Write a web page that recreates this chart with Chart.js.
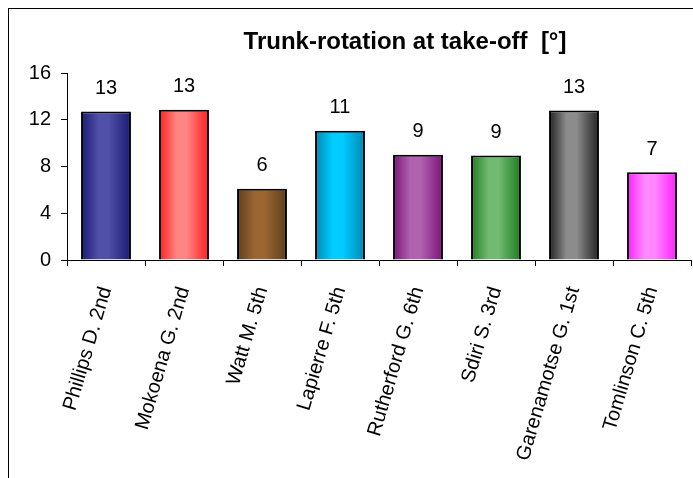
<!DOCTYPE html>
<html lang="en">
<head>
<meta charset="UTF-8">
<title>Trunk-rotation at take-off</title>
<script src="https://cdn.jsdelivr.net/npm/chart.js@4.4.0/dist/chart.umd.min.js"></script>
<style>
  html, body { margin: 0; padding: 0; background: #fff; overflow: hidden; }
  .frame {
    position: absolute;
    left: 8px;
    top: 8px;
    width: 792px;
    height: 480px;
    border: 1px solid #000;
  }
  canvas { display: block; }
</style>
</head>
<body>
<div class="frame"><canvas id="chart" width="792" height="480"></canvas></div>
<script>
  // data
  const athletes = ['Phillips D. 2nd', 'Mokoena G. 2nd', 'Watt M. 5th', 'Lapierre F. 5th',
                    'Rutherford G. 6th', 'Sdiri S. 3rd', 'Garenamotse G. 1st', 'Tomlinson C. 5th'];
  const rotation = [12.7, 12.85, 6.1, 11.05, 9.0, 8.95, 12.8, 7.5];
  const shownValues = [13, 13, 6, 11, 9, 9, 13, 7];
  const yTicks = [0, 4, 8, 12, 16];
  const chartTitle = 'Trunk-rotation at take-off  [°]';

  // bar shading: dark edge, light middle
  const edgeColors  = ['#1a1a72', '#ff1e1e', '#5e3e1c', '#0088b0', '#7a1478', '#1f7d1f', '#222222', '#ff1eff'];
  const lightColors = ['#5050a8', '#ff8484', '#9c6632', '#00ccff', '#b062b0', '#72ba72', '#8c8c8c', '#ff88ff'];

  const FONT = '"Liberation Sans", Arial, sans-serif';
  const barPct = 0.64;

  function barFill(c) {
    const i = c.dataIndex;
    const xs = c.chart.scales && c.chart.scales.x;
    if (i === undefined || !xs) return lightColors[0];
    const mid = xs.getPixelForValue(i);
    const half = xs.width / athletes.length * barPct / 2;
    if (!isFinite(mid) || !isFinite(half) || half <= 0) return lightColors[i];
    const g = c.chart.ctx.createLinearGradient(mid - half, 0, mid + half, 0);
    g.addColorStop(0, edgeColors[i]);
    g.addColorStop(0.35, lightColors[i]);
    g.addColorStop(0.55, lightColors[i]);
    g.addColorStop(1, edgeColors[i]);
    return g;
  }

  // numbers above the bars + title centred on the whole (wider) chart frame
  const valueLabels = {
    id: 'valueLabels',
    afterDatasetsDraw(chart) {
      const ctx = chart.ctx;
      const meta = chart.getDatasetMeta(0);
      ctx.save();
      ctx.font = '20px ' + FONT;
      ctx.fillStyle = '#000';
      ctx.textAlign = 'center';
      ctx.textBaseline = 'middle';
      meta.data.forEach((bar, i) => {
        ctx.fillText(String(shownValues[i]), bar.x, bar.y - 23);
      });
      ctx.font = 'bold 24px ' + FONT;
      ctx.fillText(chartTitle, chart.width / 2, 33);
      ctx.restore();
    }
  };

  new Chart(document.getElementById('chart'), {
    type: 'bar',
    data: {
      labels: athletes,
      datasets: [{
        data: rotation,
        backgroundColor: barFill,
        borderColor: '#000',
        borderWidth: 2,
        categoryPercentage: 1,
        barPercentage: barPct
      }]
    },
    options: {
      responsive: false,
      animation: false,
      layout: { padding: { left: 0, right: 110, top: 64, bottom: 0 } },
      plugins: {
        legend: { display: false },
        tooltip: { enabled: false },
        title: { display: false }
      },
      scales: {
        x: {
          grid: { offset: true, drawOnChartArea: false, color: '#000', tickLength: 6 },
          border: { color: '#000', width: 1 },
          ticks: {
            autoSkip: false,
            minRotation: 73.5,
            maxRotation: 73.5,
            padding: 18,
            color: '#000',
            font: { family: FONT, size: 20 }
          },
          afterFit: s => { s.height = 229; }
        },
        y: {
          min: 0,
          max: 16,
          grid: { drawOnChartArea: false, color: '#000', tickLength: 6 },
          border: { color: '#000', width: 1 },
          ticks: {
            padding: 10,
            color: '#000',
            font: { family: FONT, size: 20 }
          },
          afterBuildTicks: s => { s.ticks = yTicks.map(v => ({ value: v })); },
          afterFit: s => { s.width = 58; }
        }
      }
    },
    plugins: [valueLabels]
  });
</script>
</body>
</html>
